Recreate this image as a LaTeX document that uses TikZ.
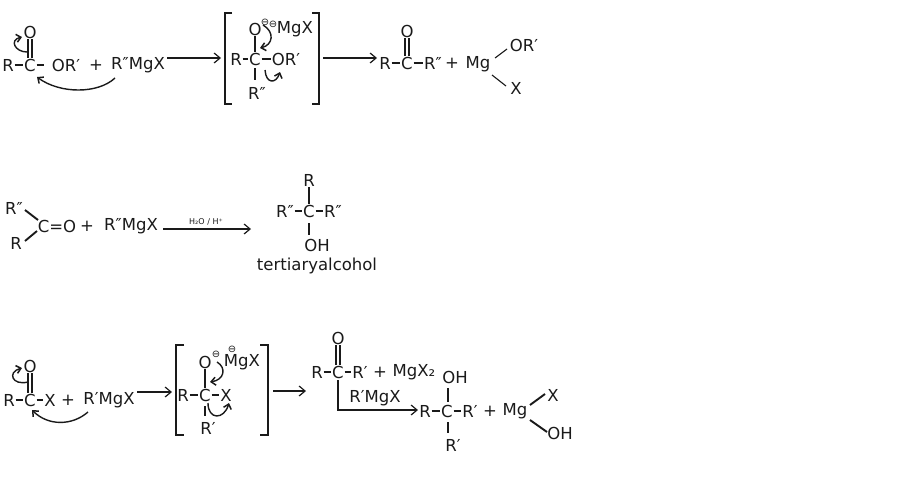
\documentclass[tikz,border=0pt]{standalone}
\usepackage{fontspec}
\setmainfont{DejaVu Sans}
\usetikzlibrary{arrows.meta}
\definecolor{ink}{HTML}{1A1A1A}
\tikzset{
  x=1pt,y=-1pt,
  every node/.style={inner sep=0.9pt,outer sep=0pt,text=ink,font=\fontsize{16.5}{17}\selectfont},
  bond/.style={draw=ink,line width=1.1pt},
  boldbond/.style={draw=ink,line width=1.9pt},
  rxn/.style={draw=ink,line width=1.1pt,-{Straight Barb[length=6pt,width=10pt,line width=1.2pt]}},
  curly/.style={draw=ink,line width=1.4pt,-{Straight Barb[length=4.5pt,width=8pt,line width=1.5pt]}},
  brk/.style={draw=ink,line width=2.2pt},
  chg/.style={font=\fontsize{10}{10}\selectfont,inner sep=0pt},
  small/.style={font=\fontsize{8}{9}\selectfont,inner sep=0pt},
}
\begin{document}
\begin{tikzpicture}
\useasboundingbox (0,0) rectangle (903,479);
% ---------- row 1
\node (a1o) at (30,32) {O};
\node (a1r) at (8,65) {R};
\node (a1c) at (30,65) {C};
\node (a1or) at (66,65) {OR′};
\node (a1p) at (96,65) {+};
\node (a1m) at (138,65) {R″MgX};
\draw[bond] (a1r) -- (a1c);
\draw[bond] (a1c.east) -- ++(7,0);
\draw[bond] ([xshift=-2]a1c.north) -- ([xshift=-2]a1o.south);
\draw[bond] ([xshift=2]a1c.north) -- ([xshift=2]a1o.south);
\coordinate (a1s1) at (27,52); \coordinate (a1e1) at (22,37);
\draw[curly] (a1s1) .. controls (15,52) and (9,40) .. (a1e1);
\coordinate (a1s2) at (115,78); \coordinate (a1e2) at (37,77);
\draw[curly] (a1s2) .. controls (98,94) and (60,94) .. (a1e2);
\coordinate (a1a) at (167,58); \coordinate (a1b) at (221,58);
\draw[rxn] (a1a) -- (a1b);
\draw[brk] (232,13) -- (225,13) -- (225,104) -- (232,104);
\draw[brk] (312,13) -- (319,13) -- (319,104) -- (312,104);
\node (b1o) at (255,29) {O};
\node[chg] (b1n1) at (265,22) {⊖};
\node[chg] (b1n2) at (273,24) {⊖};
\node (b1m) at (295,29) {MgX};
\node (b1r) at (236,59) {R};
\node (b1c) at (255,59) {C};
\node (b1or) at (286,59) {OR′};
\node (b1rr) at (257,93) {R″};
\draw[bond] (b1r) -- (b1c);
\draw[bond] (b1c) -- (b1or);
\draw[bond] (b1c) -- (b1o);
\draw[bond] (b1c.south) ++(0,2) -- ++(0,12);
\coordinate (b1s1) at (263,25); \coordinate (b1e1) at (260,48);
\draw[curly] (b1s1) .. controls (275,32) and (273,45) .. (b1e1);
\coordinate (b1s2) at (265,70); \coordinate (b1e2) at (280,72);
\draw[curly] (b1s2) .. controls (266,84) and (276,84) .. (b1e2);
\coordinate (b1a) at (323,58); \coordinate (b1b) at (377,58);
\draw[rxn] (b1a) -- (b1b);
\node (c1o) at (407,31) {O};
\node (c1r) at (385,63) {R};
\node (c1c) at (407,63) {C};
\node (c1rr) at (433,63) {R″};
\node (c1p) at (452,63) {+};
\node (c1m) at (478,64) {Mg};
\node (c1or) at (524,45) {OR′};
\node (c1x) at (516,88) {X};
\draw[bond] (c1r) -- (c1c);
\draw[bond] (c1c) -- (c1rr);
\draw[bond] ([xshift=-2]c1c.north) -- ([xshift=-2]c1o.south);
\draw[bond] ([xshift=2]c1c.north) -- ([xshift=2]c1o.south);
\coordinate (c1b1) at (495,58); \coordinate (c1b2) at (507,49);
\draw[bond] (c1b1) -- (c1b2);
\coordinate (c1b3) at (492,75); \coordinate (c1b4) at (506,86);
\draw[bond] (c1b3) -- (c1b4);
% ---------- row 2
\node (a2rr) at (14,208) {R″};
\node (a2r) at (16,243) {R};
\node (a2co) at (57,226) {C=O};
\node (a2p) at (87,226) {+};
\node (a2m) at (131,226) {R″MgX};
\coordinate (a2b1) at (25,210); \coordinate (a2b2) at (38,220);
\draw[boldbond] (a2b1) -- (a2b2);
\coordinate (a2b3) at (25,241); \coordinate (a2b4) at (37,231);
\draw[boldbond] (a2b3) -- (a2b4);
\coordinate (a2a) at (163,229); \coordinate (a2b) at (251,229);
\draw[rxn] (a2a) -- (a2b);
\node[small] (a2l) at (206,222) {H₂O / H⁺};
\node (b2r) at (309,180) {R};
\node (b2a) at (285,211) {R″};
\node (b2c) at (309,211) {C};
\node (b2d) at (333,211) {R″};
\node (b2oh) at (317,245) {OH};
\node (b2t) at (317,266) {tertiaryalcohol};
\draw[bond] (b2a) -- (b2c);
\draw[bond] (b2c) -- (b2d);
\draw[boldbond] (b2r.south) -- (b2c.north);
\coordinate (b2b1) at (309,223); \coordinate (b2b2) at (309,235);
\draw[bond] (b2b1) -- (b2b2);
% ---------- row 3
\node (a3o) at (30,366) {O};
\node (a3r) at (9,400) {R};
\node (a3c) at (30,400) {C};
\node (a3x) at (50,400) {X};
\node (a3p) at (68,400) {+};
\node (a3m) at (109,400) {R′MgX};
\draw[bond] (a3r) -- (a3c);
\draw[bond] (a3c) -- (a3x);
\draw[bond] ([xshift=-2]a3c.north) -- ([xshift=-2]a3o.south);
\draw[bond] ([xshift=2]a3c.north) -- ([xshift=2]a3o.south);
\coordinate (a3s1) at (28,382); \coordinate (a3e1) at (22,368);
\draw[curly] (a3s1) .. controls (12,386) and (7,372) .. (a3e1);
\coordinate (a3s2) at (88,412); \coordinate (a3e2) at (32,410);
\draw[curly] (a3s2) .. controls (72,426) and (48,426) .. (a3e2);
\coordinate (a3a) at (137,392); \coordinate (a3b) at (172,392);
\draw[rxn] (a3a) -- (a3b);
\draw[brk] (184,345) -- (176,345) -- (176,435) -- (184,435);
\draw[brk] (260,345) -- (268,345) -- (268,435) -- (260,435);
\node (b3o) at (205,362) {O};
\node[chg] (b3n1) at (216,354) {⊖};
\node[chg] (b3n2) at (232,349) {⊖};
\node (b3m) at (242,362) {MgX};
\node (b3r) at (183,395) {R};
\node (b3c) at (205,395) {C};
\node (b3x) at (226,395) {X};
\node (b3rr) at (208,428) {R′};
\draw[bond] (b3r) -- (b3c);
\draw[bond] (b3c) -- (b3x);
\draw[bond] (b3c) -- (b3o);
\coordinate (b3b1) at (205,406); \coordinate (b3b2) at (205,416);
\draw[bond] (b3b1) -- (b3b2);
\coordinate (b3s1) at (217,362); \coordinate (b3e1) at (210,382);
\draw[curly] (b3s1) .. controls (227,368) and (224,380) .. (b3e1);
\coordinate (b3s2) at (208,403); \coordinate (b3e2) at (229,403);
\draw[curly] (b3s2) .. controls (208,420) and (224,420) .. (b3e2);
\coordinate (b3a) at (273,391); \coordinate (b3b) at (306,391);
\draw[rxn] (b3a) -- (b3b);
\node (c3o) at (338,338) {O};
\node (c3r) at (317,372) {R};
\node (c3c) at (338,372) {C};
\node (c3d) at (360,372) {R′};
\node (c3p) at (380,372) {+};
\node (c3m) at (414,372) {MgX₂};
\draw[bond] (c3r) -- (c3c);
\draw[bond] (c3c) -- (c3d);
\draw[bond] ([xshift=-2]c3c.north) -- ([xshift=-2]c3o.south);
\draw[bond] ([xshift=2]c3c.north) -- ([xshift=2]c3o.south);
\node (c3l) at (375,398) {R′MgX};
\node (d3oh) at (455,377) {OH};
\node (d3r) at (425,411) {R};
\node (d3c) at (447,411) {C};
\node (d3d) at (470,411) {R′};
\node (d3p) at (490,411) {+};
\node (d3m) at (515,411) {Mg};
\node (d3x) at (553,395) {X};
\node (d3h) at (560,433) {OH};
\node (d3e) at (453,445) {R′};
\draw[bond] (d3r) -- (d3c);
\draw[bond] (d3c) -- (d3d);
\coordinate (d3b1) at (448,388); \coordinate (d3b2) at (448,402);
\draw[bond] (d3b1) -- (d3b2);
\coordinate (d3b3) at (448,422); \coordinate (d3b4) at (448,433);
\draw[bond] (d3b3) -- (d3b4);
\coordinate (d3b5) at (530,405); \coordinate (d3b6) at (545,394);
\draw[boldbond] (d3b5) -- (d3b6);
\coordinate (d3b7) at (530,420); \coordinate (d3b8) at (547,432);
\draw[boldbond] (d3b7) -- (d3b8);
\coordinate (c3a) at (338,380); \coordinate (c3k) at (338,410); \coordinate (c3b) at (418,410);
\draw[rxn] (c3a) -- (c3k) -- (c3b);
\end{tikzpicture}
\end{document}
